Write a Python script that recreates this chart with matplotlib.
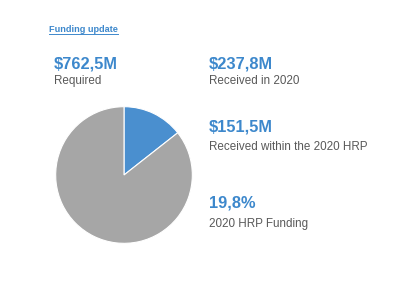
import matplotlib
matplotlib.use("Agg")
import matplotlib.pyplot as plt
from matplotlib.lines import Line2D

W, H = 413, 298
plt.rcParams['font.family'] = ['Liberation Sans', 'DejaVu Sans']

title = "Funding update"
values = ["$762,5M", "$237,8M", "$151,5M", "19,8%"]
labels = ["Required", "Received in 2020", "Received within the 2020 HRP", "2020 HRP Funding"]
pie_labels = ["Funded", "Unfunded"]
pie_shares = [14.4, 85.6]

BLUE = "#3d88cc"
GRAY_TXT = "#595959"
PIE_COLORS = ["#4a8fcf", "#a6a6a6"]

fig = plt.figure(figsize=(W / 100, H / 100), dpi=100)

def fx(x):
    return x / W

def fy(y):
    return 1 - y / H

# pie
cx, cy, r = 124, 175, 69
ax = fig.add_axes([fx(cx - r), fy(cy + r), 2 * r / W, 2 * r / H])
ax.pie(pie_shares, colors=PIE_COLORS, startangle=90, counterclock=False,
       wedgeprops=dict(edgecolor="white", linewidth=0.8))
ax.set_xlim(-1.01, 1.01)
ax.set_ylim(-1.01, 1.01)
ax.set_aspect("equal")
ax.axis("off")

# title with underline
t = fig.text(fx(49), fy(32), title, color=BLUE, fontsize=6.6, fontweight="bold", va="baseline")
fig.canvas.draw()
bb = t.get_window_extent()
fig.add_artist(Line2D([bb.x0 / W, bb.x1 / W], [fy(34.2), fy(34.2)], transform=fig.transFigure,
                      color=BLUE, linewidth=0.7))

# value blocks
pos = [(54, 69, 84), (209, 69, 84), (209, 131, 150), (209, 208, 227)]
for (x, yv, yl), v, l in zip(pos, values, labels):
    fig.text(fx(x), fy(yv), v, color=BLUE, fontsize=11.8, fontweight="bold", va="baseline")
    fig.text(fx(x), fy(yl), l, color=GRAY_TXT, fontsize=8.4, va="baseline")

fig.savefig("out.png", dpi=100)
